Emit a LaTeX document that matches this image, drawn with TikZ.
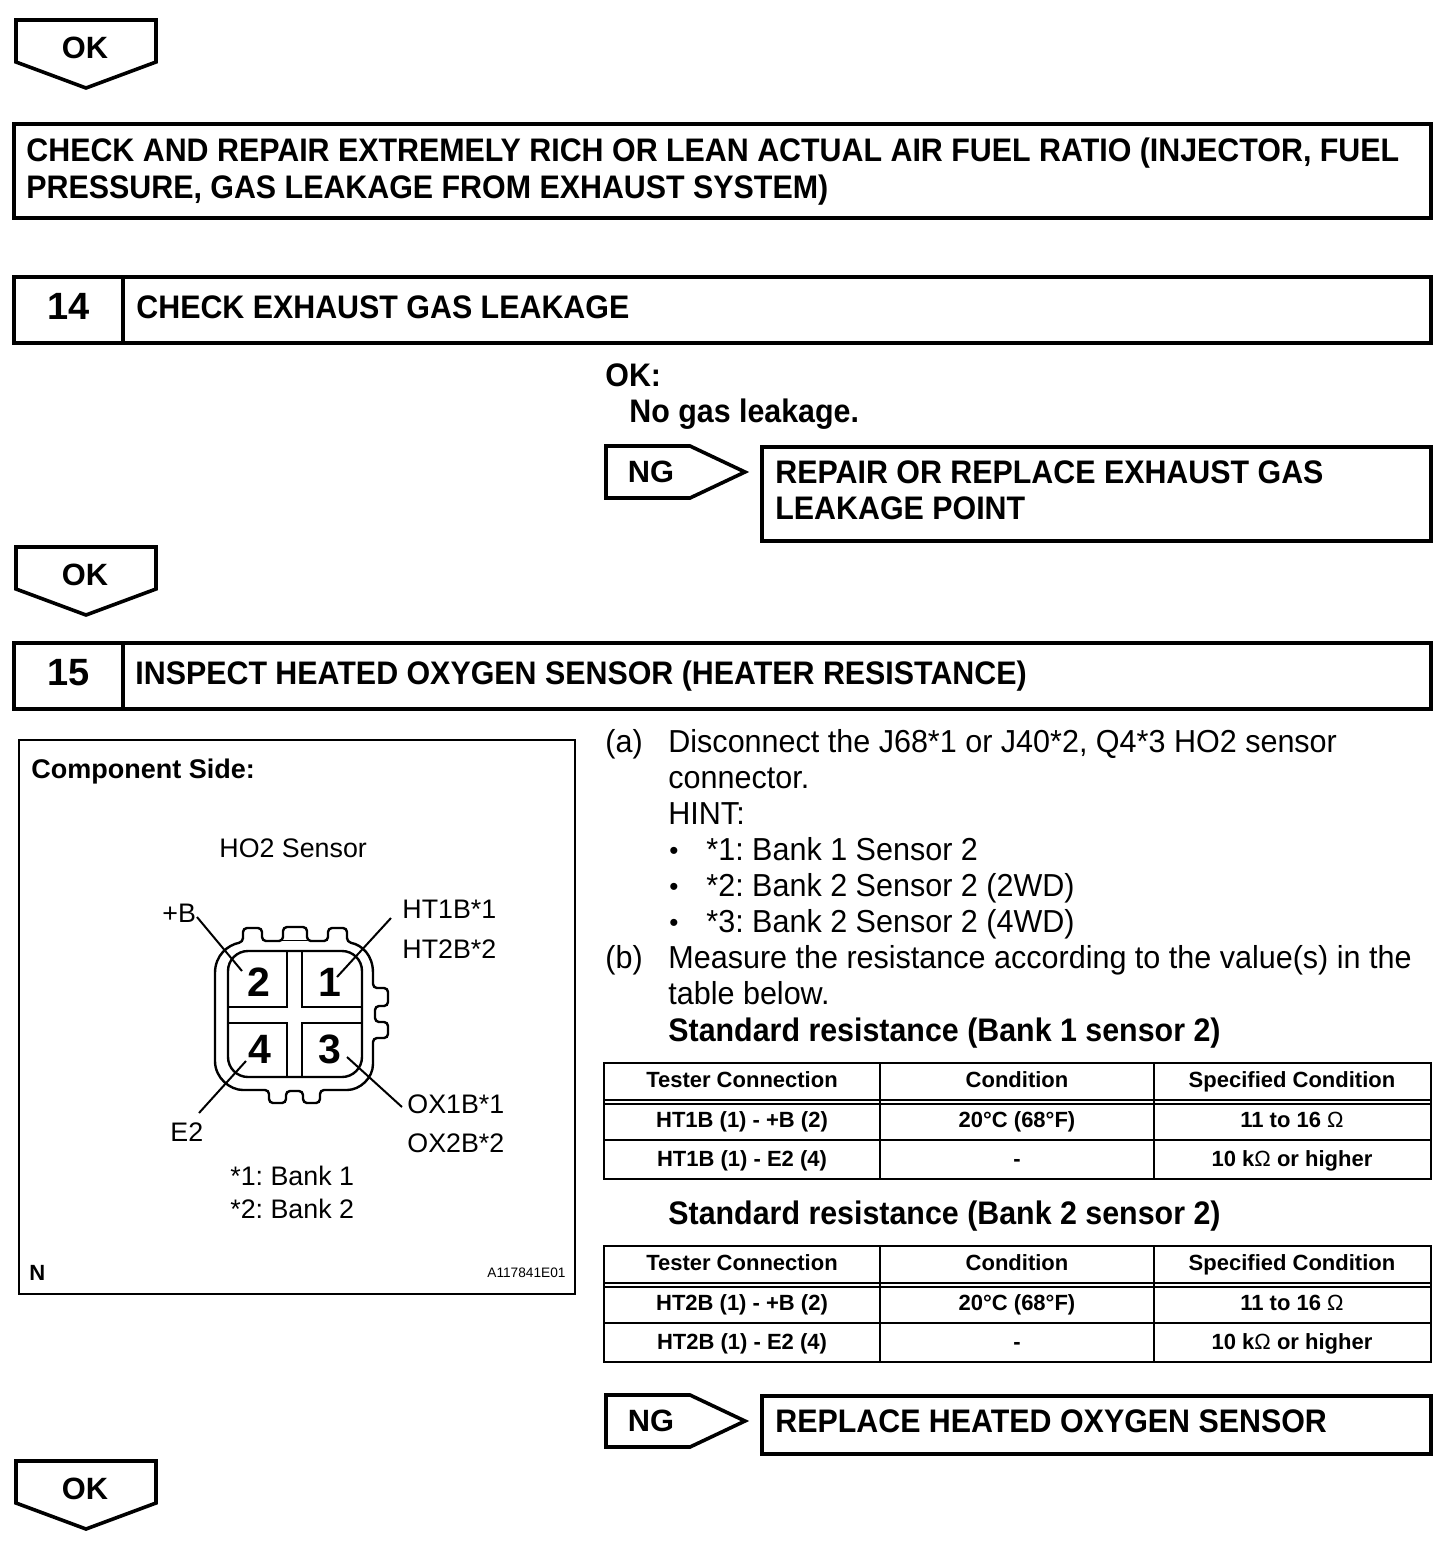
\documentclass[tikz,border=0pt]{standalone}
\usepackage{fontspec}
\setmainfont{Liberation Sans}
\newfontfamily\headfam[FakeStretch=0.932]{Liberation Sans}
\newfontfamily\bodyfam[FakeStretch=0.96]{Liberation Sans}
\usetikzlibrary{positioning}
\tikzset{
  heavy/.style={line width=1.8pt, draw=black, line join=miter},
  thin line/.style={line width=1.2pt, draw=black},
  leader/.style={line width=1pt, draw=black},
  headtxt/.style={anchor=base west, inner sep=0pt, font=\fontsize{16.3}{18}\selectfont\headfam\bfseries},
  bodytxt/.style={anchor=base west, inner sep=0pt, font=\fontsize{15.9}{18}\selectfont\bodyfam},
  numtxt/.style={anchor=base, inner sep=0pt, font=\fontsize{19}{20}\selectfont\bfseries},
  pintxt/.style={anchor=base, inner sep=0pt, font=\fontsize{20.5}{20}\selectfont\bfseries},
  flagtxt/.style={anchor=base, inner sep=0pt, font=\fontsize{15.4}{18}\selectfont\bfseries},
  figtxt/.style={anchor=base west, inner sep=0pt, font=\fontsize{13.4}{14}\selectfont},
  celltxt/.style={anchor=base, inner sep=0pt, font=\fontsize{11}{12}\selectfont\bfseries}
}
\begin{document}
\frenchspacing
\begin{tikzpicture}[x=0.5pt,y=-0.5pt]
\useasboundingbox (0,0) rectangle (1456,1554);

% OK flags
\foreach \y/\n in {20/a,547/b,1461/c}{
  \draw[heavy] (16,\y) -- (156,\y) -- (156,\y+42) -- (86,\y+68) -- (16,\y+42) -- cycle;
  \node[flagtxt] (ok\n) at (85,\y+38) {OK};
}

% first box
\draw[heavy] (14,124) rectangle (1431,218);
\node[headtxt] (rich1) at (26,161) {CHECK AND REPAIR EXTREMELY RICH OR LEAN ACTUAL AIR FUEL RATIO (INJECTOR, FUEL};
\node[headtxt] (rich2) at (26,198) {PRESSURE, GAS LEAKAGE FROM EXHAUST SYSTEM)};

% step 14
\draw[heavy] (14,277) rectangle (1431,343);
\draw[heavy] (123,277) -- (123,343);
\node[numtxt] (num14) at (69,319) {14};
\node[headtxt] (title14) at (136,318) {CHECK EXHAUST GAS LEAKAGE};
\node[headtxt] (ok14) at (605,386) {OK:};
\node[headtxt] (spec14) at (629,422) {No gas leakage.};

% step 15
\draw[heavy] (14,643) rectangle (1431,709);
\draw[heavy] (123,643) -- (123,709);
\node[numtxt] (num15) at (69,685) {15};
\node[headtxt] (title15) at (135,684) {INSPECT HEATED OXYGEN SENSOR (HEATER RESISTANCE)};

% NG flags with their boxes
\foreach \y/\b/\n in {446/541/a,1395/1454/b}{
  \draw[heavy] (606,\y) -- (690,\y) -- (745,\y+26) -- (690,\y+52) -- (606,\y+52) -- cycle;
  \node[flagtxt] (ng\n) at (651,\y+36) {NG};
  \draw[heavy] (762,\y+1) rectangle (1431,\b);
}
\node[headtxt] (repair1) at (775,483) {REPAIR OR REPLACE EXHAUST GAS};
\node[headtxt] (repair2) at (775,519) {LEAKAGE POINT};
\node[headtxt] (replace) at (775,1432) {REPLACE HEATED OXYGEN SENSOR};

% sensor figure
\draw[thin line] (19,740) rectangle (575,1294);
\node[figtxt, font=\fontsize{13.5}{14}\selectfont\bfseries] (side) at (31,778) {Component Side:};
\node[figtxt] (sensor) at (219,857) {HO2 Sensor};
\node[figtxt] (lplus) at (162,922) {+B};
\node[figtxt] (lht1) at (402,918) {HT1B*1};
\node[figtxt] (lht2) at (402,958) {HT2B*2};
\node[figtxt] (lox1) at (407,1113) {OX1B*1};
\node[figtxt] (lox2) at (407,1152) {OX2B*2};
\node[figtxt] (le2) at (170,1141) {E2};
\node[figtxt] (bank1) at (230,1185) {*1: Bank 1};
\node[figtxt] (bank2) at (230,1218) {*2: Bank 2};
\node[figtxt, font=\fontsize{11}{12}\selectfont\bfseries] (mark) at (29,1280) {N};
\node[anchor=base east, inner sep=0pt, font=\fontsize{6.85}{8}\selectfont] (code) at (566,1277) {A117841E01};

% connector outline
\draw[thin line, rounded corners=2pt]
  (215,977) .. controls (215,955) and (228,945) .. (243,942)
  -- (243,928) -- (262,928) -- (262,941) -- (283,941) -- (283,927) -- (307,927) -- (307,941)
  -- (328,941) -- (328,928) -- (347,928) -- (347,942)
  .. controls (362,945) and (373,955) .. (373,977)
  -- (373,988) -- (388,988) -- (388,1006) -- (375,1006) -- (375,1022) -- (388,1022) -- (388,1038) -- (373,1038)
  -- (373,1060) .. controls (373,1078) and (360,1090) .. (343,1090)
  -- (320,1090) -- (320,1103) -- (303,1103) -- (303,1091) -- (286,1091) -- (286,1103) -- (269,1103) -- (269,1090)
  -- (247,1090) .. controls (230,1090) and (215,1078) .. (215,1057) -- cycle;
\draw[line width=0.4pt] (283,940) -- (307,940);
\draw[thin line, rounded corners=10pt] (228,951) rectangle (362,1077);
\draw[thin line] (287,951) -- (287,1007) -- (228,1007);
\draw[thin line] (302,951) -- (302,1007) -- (362,1007);
\draw[thin line] (287,1077) -- (287,1023) -- (228,1023);
\draw[thin line] (302,1077) -- (302,1023) -- (362,1023);
\node[pintxt] (pin2) at (259,996) {2};
\node[pintxt] (pin1) at (330,996) {1};
\node[pintxt] (pin4) at (260,1063) {4};
\node[pintxt] (pin3) at (330,1063) {3};

% leaders
\coordinate (cplus) at (197,917);
\coordinate (c2) at (242,971);
\coordinate (cht) at (391,918);
\coordinate (c1) at (337,977);
\coordinate (ce2) at (199,1113);
\coordinate (c4) at (246,1061);
\coordinate (cox) at (402,1107);
\coordinate (c3) at (347,1057);
\draw[leader] (cplus) -- (c2);
\draw[leader] (cht) -- (c1);
\draw[leader] (ce2) -- (c4);
\draw[leader] (cox) -- (c3);

% instructions
\node[bodytxt] (stepa) at (605,752) {(a)};
\node[bodytxt] (a1) at (668,752) {Disconnect the J68*1 or J40*2, Q4*3 HO2 sensor};
\node[bodytxt] (a2) at (668,788) {connector.};
\node[bodytxt] (hint) at (668,824) {HINT:};
\foreach \y/\n/\t in {860/1/*1: Bank 1 Sensor 2,896/2/*2: Bank 2 Sensor 2 (2WD),932/3/*3: Bank 2 Sensor 2 (4WD)}{
  \node[bodytxt, font=\fontsize{13}{14}\selectfont] (dot\n) at (669,\y-1) {•};
  \node[bodytxt] (hint\n) at (706,\y) {\t};
}
\node[bodytxt] (stepb) at (605,968) {(b)};
\node[bodytxt] (b1) at (668,968) {Measure the resistance according to the value(s) in the};
\node[bodytxt] (b2) at (668,1004) {table below.};

% tables
\foreach \dy/\s/\c/\bk in {0/1/HT1B/1,183/2/HT2B/2}{
  \node[headtxt] (std\s) at (668,1041+\dy) {Standard resistance (Bank \bk{} sensor 2)};
  \draw[thin line] (604,1063+\dy) rectangle (1431,1179+\dy);
  \draw[thin line] (604,1100+\dy) -- (1431,1100+\dy);
  \draw[thin line] (604,1104+\dy) -- (1431,1104+\dy);
  \draw[thin line] (604,1140+\dy) -- (1431,1140+\dy);
  \draw[thin line] (880,1063+\dy) -- (880,1179+\dy);
  \draw[thin line] (1154,1063+\dy) -- (1154,1179+\dy);
  \node[celltxt] (h1\s) at (742,1087+\dy) {Tester Connection};
  \node[celltxt] (h2\s) at (1017,1087+\dy) {Condition};
  \node[celltxt] (h3\s) at (1292,1087+\dy) {Specified Condition};
  \node[celltxt] (r1\s) at (742,1127+\dy) {\c{} (1) - +B (2)};
  \node[celltxt] (r2\s) at (1017,1127+\dy) {20°C (68°F)};
  \node[celltxt] (r3\s) at (1292,1127+\dy) {11 to 16 {\mdseries Ω}};
  \node[celltxt] (q1\s) at (742,1166+\dy) {\c{} (1) - E2 (4)};
  \node[celltxt] (q2\s) at (1017,1166+\dy) {-};
  \node[celltxt] (q3\s) at (1292,1166+\dy) {10 k{\mdseries Ω} or higher};
}
\end{tikzpicture}
\end{document}
